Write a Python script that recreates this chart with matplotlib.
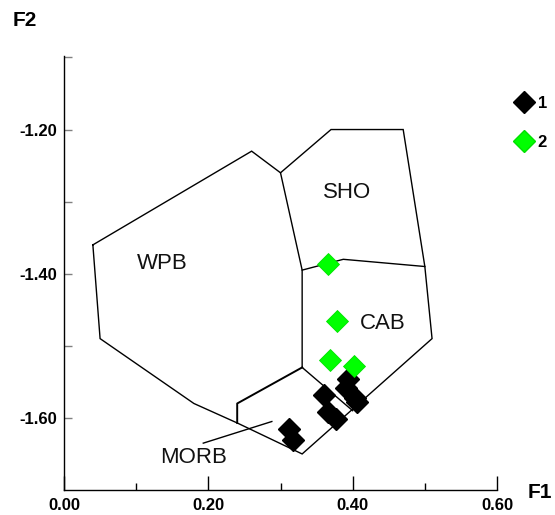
import matplotlib
matplotlib.use("Agg")
import matplotlib.pyplot as plt
from matplotlib.lines import Line2D
from matplotlib.ticker import FixedLocator

plt.rcParams["font.family"] = ["Liberation Sans", "DejaVu Sans"]

# ── field boundaries (F1, F2) ─────────────────────────────────────────
outer_f1 = [0.040, 0.050, 0.180, 0.240, 0.330, 0.510, 0.500, 0.470, 0.370, 0.300, 0.260, 0.040]
outer_f2 = [-1.360, -1.490, -1.580, -1.607, -1.650, -1.490, -1.390, -1.200, -1.200, -1.260, -1.230, -1.360]

wpb_f1 = [0.300, 0.330, 0.330]
wpb_f2 = [-1.260, -1.395, -1.530]

morb_f1 = [0.330, 0.240, 0.240]
morb_f2 = [-1.530, -1.580, -1.607]

sho_f1 = [0.330, 0.387, 0.500]
sho_f2 = [-1.395, -1.380, -1.390]

cab_f1 = [0.330, 0.400]
cab_f2 = [-1.530, -1.590]

# ── samples ───────────────────────────────────────────────────────────
group1_f1 = [0.393, 0.391, 0.403, 0.406, 0.360, 0.366, 0.377, 0.312, 0.318]
group1_f2 = [-1.546, -1.559, -1.573, -1.578, -1.568, -1.592, -1.601, -1.616, -1.630]

group2_f1 = [0.366, 0.378, 0.368, 0.402]
group2_f2 = [-1.386, -1.466, -1.519, -1.528]

field_names = ["SHO", "WPB", "CAB", "MORB"]
field_f1 = [0.392, 0.136, 0.442, 0.180]
field_f2 = [-1.287, -1.386, -1.469, -1.655]

x_major = [0.0, 0.2, 0.4, 0.6]
x_minor = [0.1, 0.3, 0.5]
y_major = [-1.6, -1.4, -1.2]
y_minor = [-1.5, -1.3, -1.1]

fig = plt.figure(figsize=(5.55, 5.15), dpi=100)
ax = fig.add_axes([64 / 555, 25 / 515, 433 / 555, 434 / 515])
ax.set_xlim(0.0, 0.6)
ax.set_ylim(-1.70, -1.098)

for sp in ("top", "right"):
    ax.spines[sp].set_visible(False)
for sp in ("left", "bottom"):
    ax.spines[sp].set_linewidth(1.0)

line_kw = dict(color="black", lw=1.0, solid_joinstyle="miter")
ax.plot(outer_f1, outer_f2, **line_kw)
ax.plot(wpb_f1, wpb_f2, **line_kw)
ax.plot(sho_f1, sho_f2, **line_kw)
ax.plot(cab_f1, cab_f2, **line_kw)
ax.plot(morb_f1, morb_f2, color="black", lw=1.4)

# pointer from the MORB label into its field
ax.plot([0.193, 0.288], [-1.635, -1.605], color="black", lw=1.0)

for name, fx, fy in zip(field_names, field_f1, field_f2):
    ax.text(fx, fy, name, ha="center", va="center", fontsize=16, color="#111111")

ax.plot(group1_f1, group1_f2, ls="none", marker="D", ms=11,
        color="black", mec="black", zorder=5)
ax.plot(group2_f1, group2_f2, ls="none", marker="D", ms=11,
        color="#00FF00", mec="#00E000", mew=0.6, zorder=6)

ax.xaxis.set_major_locator(FixedLocator(x_major))
ax.xaxis.set_minor_locator(FixedLocator(x_minor))
ax.yaxis.set_major_locator(FixedLocator(y_major))
ax.yaxis.set_minor_locator(FixedLocator(y_minor))
ax.set_xticklabels([f"{v:.2f}" for v in x_major])
ax.set_yticklabels([f"{v:.2f}" for v in y_major])

ax.tick_params(axis="x", which="major", direction="in", length=10, width=1,
               pad=6, labelsize=12)
ax.tick_params(axis="x", which="minor", direction="in", length=5, width=1)
ax.tick_params(axis="y", which="both", direction="in", length=5.5, width=1,
               color="#808080", pad=5, labelsize=12)
for lab in ax.get_xticklabels() + ax.get_yticklabels():
    lab.set_fontweight("bold")

fig.text(540 / 555, 1 - 493 / 515, "F1", ha="center", va="center",
         fontsize=15, fontweight="bold")
fig.text(25 / 555, 1 - 21 / 515, "F2", ha="center", va="center",
         fontsize=15, fontweight="bold")

handles = [
    Line2D([], [], ls="none", marker="D", ms=11, color="black"),
    Line2D([], [], ls="none", marker="D", ms=11, color="#00FF00", mec="#00E000"),
]
fig.legend(handles, ["1", "2"], loc="upper left",
           bbox_to_anchor=(516 / 555, 1 - 96 / 515), frameon=False,
           prop=dict(size=12, weight="bold"), handlelength=1.0,
           handletextpad=0.3, labelspacing=1.45, borderpad=0, borderaxespad=0)

fig.savefig("out.png", dpi=100)
